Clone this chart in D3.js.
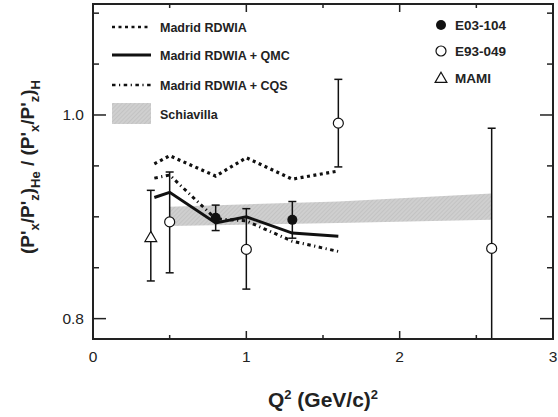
<!DOCTYPE html>
<html>
<head>
<meta charset="utf-8">
<script src="https://cdn.jsdelivr.net/npm/d3@7"></script>
<style>
  body { margin: 0; background: #fff; }
  text { font-family: "Liberation Sans", Arial, sans-serif; fill: #222; }
</style>
</head>
<body>
<svg id="drawing_region"></svg>
<script>
// theory curves
const curveQ2 = [0.4, 0.5, 0.8, 1.0, 1.3, 1.6];
const rdwia = [0.952, 0.960, 0.940, 0.958, 0.937, 0.945];
const rdwiaQMC = [0.919, 0.924, 0.894, 0.900, 0.884, 0.881];
const rdwiaCQS = [0.938, 0.941, 0.898, 0.896, 0.876, 0.866];

// Schiavilla band
const bandQ2 = [0.5, 1.6, 2.6];
const bandLow = [0.891, 0.894, 0.897];
const bandHigh = [0.910, 0.915, 0.923];

// data
const e03Q2 = [0.8, 1.3];
const e03Val = [0.899, 0.897];
const e03Err = [0.0125, 0.018];

const e93Q2 = [0.5, 1.0, 1.6, 2.6];
const e93Val = [0.895, 0.868, 0.992, 0.869];
const e93Lo = [0.845, 0.829, 0.949, 0.70];
const e93Hi = [0.944, 0.908, 1.035, 0.987];

const mamiQ2 = [0.377];
const mamiVal = [0.880];
const mamiLo = [0.837];
const mamiHi = [0.926];

const xMajor = [0, 1, 2, 3];
const xMinor = [0.5, 1.5, 2.5];
const yMajor = [0.8, 1.0];
const yMinor = [0.85, 0.9, 0.95, 1.05, 1.1];

const width = 558, height = 417;
const margin = {top: 4, right: 5, bottom: 78, left: 93};
const iw = width - margin.left - margin.right;
const ih = height - margin.top - margin.bottom;

const svg = d3.select('#drawing_region').attr('width', width).attr('height', height);

const defs = svg.append('defs');
const pat = defs.append('pattern')
    .attr('id', 'hatch')
    .attr('patternUnits', 'userSpaceOnUse')
    .attr('width', 3).attr('height', 3)
    .attr('patternTransform', 'rotate(45)');
pat.append('rect').attr('width', 3).attr('height', 3).attr('fill', '#cfcfcf');
pat.append('line').attr('x1', 0).attr('y1', 0).attr('x2', 0).attr('y2', 3)
    .attr('stroke', '#b8b8b8').attr('stroke-width', 1);

defs.append('clipPath').attr('id', 'clip')
  .append('rect').attr('width', iw).attr('height', ih);

const chart = svg.append('g')
    .attr('transform', `translate(${margin.left}, ${margin.top})`);

const xscale = d3.scaleLinear().domain([0, 3]).range([0, iw]);
const yscale = d3.scaleLinear().domain([0.78, 1.109]).range([ih, 0]);

const plot = chart.append('g').attr('clip-path', 'url(#clip)');

// band
const band = bandQ2.map((q, i) => ({q: q, lo: bandLow[i], hi: bandHigh[i]}));
plot.append('path')
    .datum(band)
    .attr('d', d3.area().x(d => xscale(d.q)).y0(d => yscale(d.lo)).y1(d => yscale(d.hi)))
    .attr('fill', 'url(#hatch)');

// curves
const line = d3.line().x(d => xscale(d[0])).y(d => yscale(d[1]));
const curves = [
    {vals: rdwia, dash: '3,3.5', w: 3.2},
    {vals: rdwiaQMC, dash: null, w: 3},
    {vals: rdwiaCQS, dash: '3.5,3.5,1.2,3.5', w: 3}
];
curves.forEach(c => {
    plot.append('path')
        .datum(curveQ2.map((q, i) => [q, c.vals[i]]))
        .attr('d', line)
        .attr('fill', 'none')
        .attr('stroke', '#111')
        .attr('stroke-width', c.w)
        .attr('stroke-dasharray', c.dash);
});

// error bars
function errorBars(qs, lo, hi) {
    qs.forEach((q, i) => {
        const x = xscale(q);
        plot.append('line')
            .attr('x1', x).attr('x2', x)
            .attr('y1', yscale(lo[i])).attr('y2', yscale(hi[i]))
            .attr('stroke', '#111').attr('stroke-width', 1.5);
        [lo[i], hi[i]].forEach(v => {
            plot.append('line')
                .attr('x1', x - 4).attr('x2', x + 4)
                .attr('y1', yscale(v)).attr('y2', yscale(v))
                .attr('stroke', '#111').attr('stroke-width', 1.5);
        });
    });
}
errorBars(e03Q2, e03Val.map((v, i) => v - e03Err[i]), e03Val.map((v, i) => v + e03Err[i]));
errorBars(e93Q2, e93Lo, e93Hi);
errorBars(mamiQ2, mamiLo, mamiHi);

// points
plot.selectAll('.e03').data(e03Q2).enter().append('circle')
    .attr('cx', d => xscale(d)).attr('cy', (d, i) => yscale(e03Val[i]))
    .attr('r', 5).attr('fill', '#111');
plot.selectAll('.e93').data(e93Q2).enter().append('circle')
    .attr('cx', d => xscale(d)).attr('cy', (d, i) => yscale(e93Val[i]))
    .attr('r', 5).attr('fill', '#fff').attr('stroke', '#111').attr('stroke-width', 1.2);
const tri = d3.symbol().type(d3.symbolTriangle).size(60);
plot.selectAll('.mami').data(mamiQ2).enter().append('path')
    .attr('d', tri)
    .attr('transform', (d, i) => `translate(${xscale(d)}, ${yscale(mamiVal[i]) + 1})`)
    .attr('fill', '#fff').attr('stroke', '#111').attr('stroke-width', 1.2);

// frame
chart.append('rect')
    .attr('width', iw).attr('height', ih)
    .attr('fill', 'none').attr('stroke', '#222').attr('stroke-width', 2);

// ticks
function xTick(v, len) {
    chart.append('line').attr('x1', xscale(v)).attr('x2', xscale(v))
        .attr('y1', ih).attr('y2', ih - len).attr('stroke', '#222').attr('stroke-width', 1.5);
    chart.append('line').attr('x1', xscale(v)).attr('x2', xscale(v))
        .attr('y1', 0).attr('y2', len).attr('stroke', '#222').attr('stroke-width', 1.5);
}
function yTick(v, len) {
    chart.append('line').attr('x1', 0).attr('x2', len)
        .attr('y1', yscale(v)).attr('y2', yscale(v)).attr('stroke', '#222').attr('stroke-width', 1.5);
    chart.append('line').attr('x1', iw).attr('x2', iw - len)
        .attr('y1', yscale(v)).attr('y2', yscale(v)).attr('stroke', '#222').attr('stroke-width', 1.5);
}
xMajor.forEach(v => xTick(v, 8));
xMinor.forEach(v => xTick(v, 4));
yMajor.forEach(v => yTick(v, 13));
yMinor.forEach(v => yTick(v, 6));

chart.selectAll('.xlab').data(xMajor).enter().append('text')
    .attr('x', d => xscale(d)).attr('y', ih + 23)
    .attr('text-anchor', 'middle').style('font-size', '15.5px')
    .text(d => d3.format('d')(d));
chart.selectAll('.ylab').data(yMajor).enter().append('text')
    .attr('x', -9).attr('y', d => yscale(d) + 5)
    .attr('text-anchor', 'end').style('font-size', '15.5px')
    .text(d => d3.format('.1f')(d));

// axis titles
const xt = svg.append('text')
    .attr('x', 323).attr('y', 407)
    .attr('text-anchor', 'middle')
    .style('font-size', '21px').style('font-weight', 'bold');
xt.append('tspan').text('Q');
xt.append('tspan').attr('dy', -8).style('font-size', '13px').text('2');
xt.append('tspan').attr('dy', 8).text(' (GeV/c)');
xt.append('tspan').attr('dy', -8).style('font-size', '13px').text('2');

const yt = svg.append('text')
    .attr('transform', 'translate(34, 167) rotate(-90)')
    .attr('text-anchor', 'middle')
    .style('font-size', '19px').style('font-weight', 'bold');
const ytParts = [
    ["(P'", 0, 19], ['x', 5, 13], ["/P'", -5, 19], ['z', 5, 13], [')', -5, 19], ['He', 6, 13],
    [" / (P'", -6, 19], ['x', 5, 13], ["/P'", -5, 19], ['z', 5, 13], [')', -5, 19], ['H', 6, 13]
];
ytParts.forEach(p => {
    yt.append('tspan').attr('dy', p[1]).style('font-size', p[2] + 'px').text(p[0]);
});

// legend left
const legL = [
    {label: 'Madrid RDWIA', dash: '3,3.5'},
    {label: 'Madrid RDWIA + QMC', dash: null},
    {label: 'Madrid RDWIA + CQS', dash: '3.5,3.5,1.2,3.5'},
    {label: 'Schiavilla', band: true}
];
const legLY = [27, 55, 85, 114];
legL.forEach((d, i) => {
    const y = legLY[i];
    if (d.band) {
        svg.append('rect').attr('x', 112).attr('y', y - 11).attr('width', 39).attr('height', 21)
            .attr('fill', 'url(#hatch)');
    } else {
        svg.append('line').attr('x1', 112).attr('x2', 151).attr('y1', y).attr('y2', y)
            .attr('stroke', '#111').attr('stroke-width', d.dash ? 2.5 : 3)
            .attr('stroke-dasharray', d.dash);
    }
    svg.append('text').attr('x', 160).attr('y', y + 4.5)
        .style('font-size', '12.5px').style('font-weight', 'bold')
        .text(d.label);
});

// legend right
const legR = ['E03-104', 'E93-049', 'MAMI'];
const legRY = [25, 51, 78];
svg.append('circle').attr('cx', 441).attr('cy', legRY[0]).attr('r', 5).attr('fill', '#111');
svg.append('circle').attr('cx', 441).attr('cy', legRY[1]).attr('r', 5)
    .attr('fill', '#fff').attr('stroke', '#111').attr('stroke-width', 1.2);
svg.append('path').attr('d', tri).attr('transform', `translate(441, ${legRY[2] + 1})`)
    .attr('fill', '#fff').attr('stroke', '#111').attr('stroke-width', 1.2);
legR.forEach((d, i) => {
    svg.append('text').attr('x', 455).attr('y', legRY[i] + 5)
        .style('font-size', '13.5px').style('font-weight', 'bold')
        .text(d);
});
</script>
</body>
</html>
